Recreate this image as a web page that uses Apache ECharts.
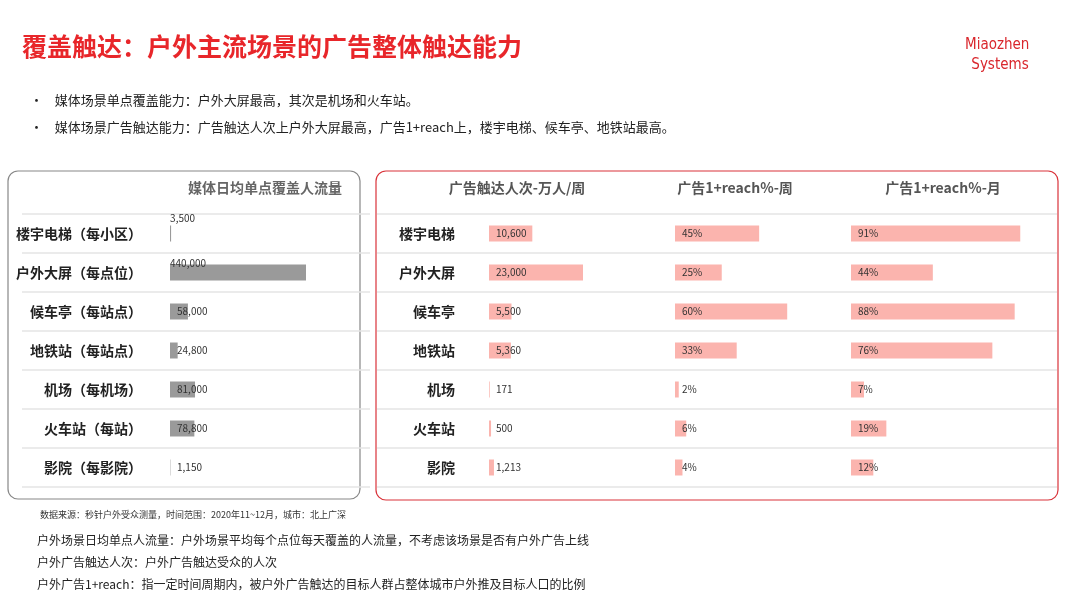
<!DOCTYPE html>
<html><head><meta charset="utf-8">
<script src="https://cdn.jsdelivr.net/npm/echarts@6/dist/echarts.min.js"></script>
<style>html,body{margin:0;background:#fff}#c{width:1080px;height:597px}</style>
</head><body><div id="c"></div>
<script>
const leftCats = ['楼宇电梯（每小区）','户外大屏（每点位）','候车亭（每站点）','地铁站（每站点）','机场（每机场）','火车站（每站）','影院（每影院）'];
const rightCats = ['楼宇电梯','户外大屏','候车亭','地铁站','机场','火车站','影院'];
const dailyFlow = [3500, 440000, 58000, 24800, 81000, 78800, 1150];
const reachPeople = [10600, 23000, 5500, 5360, 171, 500, 1213];
const reachWeek = [45, 25, 60, 33, 2, 6, 4];
const reachMonth = [91, 44, 88, 76, 7, 19, 12];

const chart = echarts.init(document.getElementById('c'));
const font = '"Noto Sans CJK SC", "Noto Sans", sans-serif';
const gTop = 214, gH = 273;
const fmt = v => v.toLocaleString('en-US');

function grid(left, width) { return { left, width, top: gTop, height: gH }; }
function yAx(i, cats, show, margin) {
  return { type: 'category', gridIndex: i, data: cats, inverse: true,
    axisLine: { show: false }, axisTick: { show: false },
    axisLabel: { show, margin, color: '#222', fontWeight: 'bold', fontSize: 14, fontFamily: font } };
}
function xAx(i, max) { return { type: 'value', gridIndex: i, max, min: 0, show: false }; }
function bar(i, data, color, fm) {
  return { type: 'bar', xAxisIndex: i, yAxisIndex: i, barWidth: 16, data,
    itemStyle: { color }, silent: true,
    label: { show: true, position: 'insideLeft', distance: 7, color: '#333', fontSize: 10, fontFamily: font, formatter: p => fm(p.value) } };
}

const leftData = dailyFlow.map((v, i) => i === 1 ? { value: v, label: { position: ['0%', -6] } } :
  i === 0 ? { value: v, label: { position: ['10%', -12] } } : v);

const sepLines = [];
for (let k = 0; k <= 7; k++) {
  const y = gTop + k * gH / 7;
  sepLines.push({ type: 'line', shape: { x1: 22, y1: y, x2: 370, y2: y }, style: { stroke: '#e4e4e4', lineWidth: 1.5 } });
  sepLines.push({ type: 'line', shape: { x1: 377, y1: y, x2: 1057, y2: y }, style: { stroke: '#e4e4e4', lineWidth: 1.5 } });
}
const txt = (x, y, text, o = {}) => ({ type: 'text', x, y, style: Object.assign({ text, fontFamily: font, fontSize: 13, fill: '#222' }, o) });

chart.setOption({
  animation: false,
  grid: [grid(170, 136), grid(489, 94), grid(675, 187), grid(851, 186)],
  xAxis: [xAx(0, 440000), xAx(1, 23000), xAx(2, 100), xAx(3, 100)],
  yAxis: [yAx(0, leftCats, true, 28), yAx(1, rightCats, true, 34), yAx(2, rightCats, false, 0), yAx(3, rightCats, false, 0)],
  series: [
    bar(0, leftData, '#9a9a9a', fmt),
    bar(1, reachPeople, '#fbb4ae', fmt),
    bar(2, reachWeek, '#fbb4ae', v => v + '%'),
    bar(3, reachMonth, '#fbb4ae', v => v + '%')
  ],
  graphic: [
    { type: 'rect', shape: { x: 8, y: 171, width: 352, height: 328, r: 10 }, style: { fill: 'none', stroke: '#888', lineWidth: 1.2 } },
    { type: 'rect', shape: { x: 376, y: 171, width: 682, height: 329, r: 10 }, style: { fill: 'none', stroke: '#d9333a', lineWidth: 1.2 } },
    ...sepLines,
    txt(22, 34, '覆盖触达：户外主流场景的广告整体触达能力', { fill: '#e8262a', fontSize: 25, fontWeight: 'bold' }),
    txt(965, 38, 'Miaozhen', { fill: '#d9262c', fontSize: 15, fontFamily: '"DejaVu Sans Condensed", sans-serif' }),
    txt(1000, 58, 'Systems', { fill: '#d9262c', fontSize: 15, fontFamily: '"DejaVu Sans Condensed", sans-serif', textAlign: 'center' }),
    txt(30, 94, '•    媒体场景单点覆盖能力：户外大屏最高，其次是机场和火车站。'),
    txt(30, 121, '•    媒体场景广告触达能力：广告触达人次上户外大屏最高，广告1+reach上，楼宇电梯、候车亭、地铁站最高。'),
    txt(265, 181, '媒体日均单点覆盖人流量', { fill: '#666', fontWeight: 'bold', fontSize: 14, textAlign: 'center' }),
    txt(517, 181, '广告触达人次-万人/周', { fill: '#555', fontWeight: 'bold', fontSize: 14, textAlign: 'center' }),
    txt(735, 181, '广告1+reach%-周', { fill: '#555', fontWeight: 'bold', fontSize: 14, textAlign: 'center' }),
    txt(943, 181, '广告1+reach%-月', { fill: '#555', fontWeight: 'bold', fontSize: 14, textAlign: 'center' }),
    txt(40, 510, '数据来源：秒针户外受众测量，时间范围：2020年11~12月，城市：北上广深', { fontSize: 9, fill: '#333' }),
    txt(37, 534, '户外场景日均单点人流量：户外场景平均每个点位每天覆盖的人流量，不考虑该场景是否有户外广告上线', { fontSize: 12 }),
    txt(37, 556, '户外广告触达人次：户外广告触达受众的人次', { fontSize: 12 }),
    txt(37, 578, '户外广告1+reach：指一定时间周期内，被户外广告触达的目标人群占整体城市户外推及目标人口的比例', { fontSize: 12 })
  ]
});
</script></body></html>
